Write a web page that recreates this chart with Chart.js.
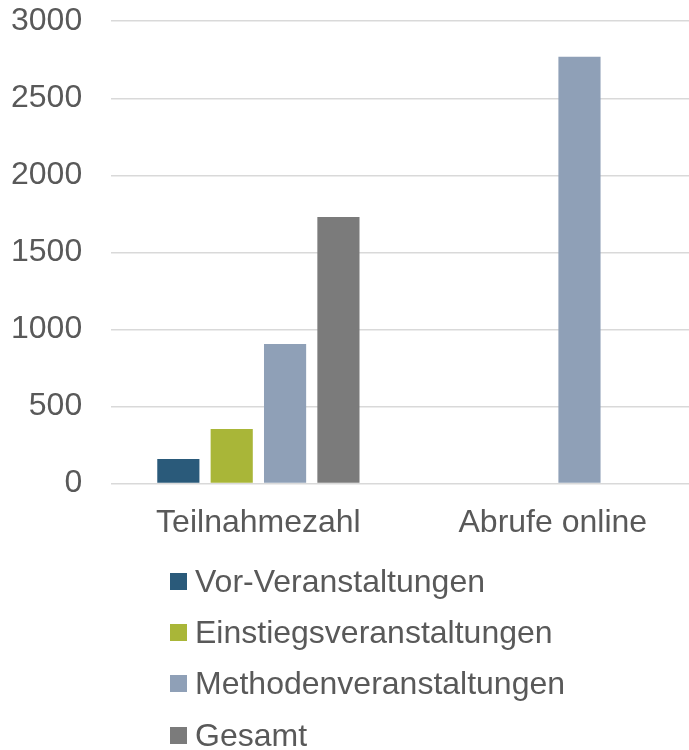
<!DOCTYPE html>
<html>
<head>
<meta charset="utf-8">
<script src="https://cdn.jsdelivr.net/npm/chart.js@4"></script>
<style>
  html, body { margin: 0; padding: 0; background: #fff; overflow: hidden; }
  body { width: 689px; height: 750px; position: relative; font-family: 'Liberation Sans', Arial, sans-serif; }
  #wrap { position: absolute; left: 0; top: -27px; width: 700px; height: 589px; }
  #legend { position: absolute; left: 170px; top: 556px; color: #595959; font-size: 32px; }
  #legend .row { display: flex; align-items: center; height: 51.2px; white-space: nowrap; }
  #legend .box { width: 17px; height: 17px; margin-right: 8px; flex: none; }
</style>
</head>
<body>
<div id="wrap"><canvas id="chart"></canvas></div>
<div id="legend"></div>
<script>
// Kategorien und Werte
const categories = ['Teilnahmezahl', 'Abrufe online'];
const seriesNames = ['Vor-Veranstaltungen', 'Einstiegsveranstaltungen', 'Methodenveranstaltungen', 'Gesamt'];
const vorValues = [160, null];
const einstiegValues = [355, null];
const methodenValues = [905, 2770];
const gesamtValues = [1730, null];
const colors = ['#2a5a7a', '#a9b638', '#8fa0b7', '#7b7b7b'];

const TEXT = '#595959';
const GRID = '#d9d9d9';
const FONT = { family: "'Liberation Sans', Arial, sans-serif", size: 32 };

const seriesValues = [vorValues, einstiegValues, methodenValues, gesamtValues];
const datasets = seriesNames.map((name, i) => ({
  label: name,
  data: seriesValues[i],
  backgroundColor: colors[i],
  borderWidth: 0,
  categoryPercentage: 0.725,
  barPercentage: 0.79,
}));

const chart = new Chart(document.getElementById('chart'), {
  type: 'bar',
  data: { labels: categories, datasets },
  options: {
    responsive: true,
    maintainAspectRatio: false,
    animation: false,
    layout: { padding: { left: -18, top: 0, right: 0, bottom: 0 } },
    plugins: { legend: { display: false }, tooltip: { enabled: false } },
    scales: {
      x: {
        grid: { display: false, drawTicks: false },
        border: { display: false },
        ticks: { color: TEXT, font: FONT, padding: 20 },
      },
      y: {
        min: 0, max: 3000,
        grid: { color: GRID, lineWidth: 1.5, drawTicks: false },
        border: { display: false },
        ticks: { stepSize: 500, color: TEXT, font: FONT, padding: 29, callback: (v) => String(v) },
      },
    },
  },
});

// HTML-Legende, senkrecht wie im Original
document.getElementById('legend').innerHTML = chart.data.datasets
  .map((d) => `<div class="row"><span class="box" style="background:${d.backgroundColor}"></span><span>${d.label}</span></div>`)
  .join('');
</script>
</body>
</html>
